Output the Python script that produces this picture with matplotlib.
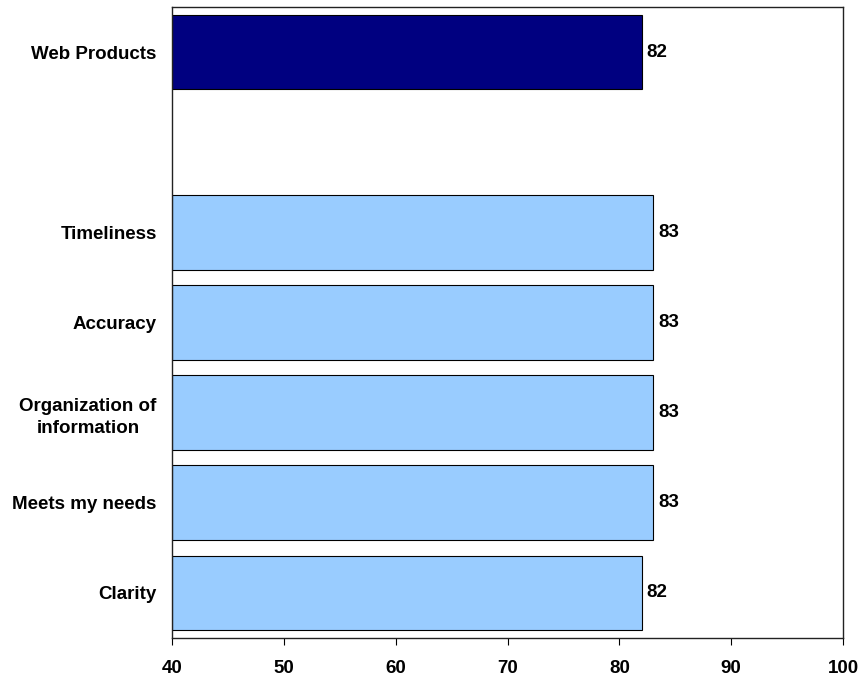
import matplotlib
matplotlib.use("Agg")
import matplotlib.pyplot as plt

categories = ["Web Products", "", "Timeliness", "Accuracy",
              "Organization of\ninformation", "Meets my needs", "Clarity"]
values = [82, None, 83, 83, 83, 83, 82]
colors = ["#000080", None, "#99CCFF", "#99CCFF", "#99CCFF", "#99CCFF", "#99CCFF"]
x_ticks = [40, 50, 60, 70, 80, 90, 100]

plt.rcParams["font.family"] = ["Liberation Sans", "DejaVu Sans"]
FS = 13.5

fig = plt.figure(figsize=(8.6, 6.77), dpi=100)
ax = fig.add_axes([172 / 860, 1 - 638 / 677, (843 - 172) / 860, (638 - 7) / 677])

positions = list(range(len(categories)))
for pos, val, col in zip(positions, values, colors):
    if val is None:
        continue
    ax.barh(pos, val - 40, left=40, height=0.83, color=col,
            edgecolor="black", linewidth=0.8)
    ax.text(val + 0.45, pos, f"{val}", va="center", ha="left",
            fontsize=FS, fontweight="bold")

ax.set_xlim(40, 100)
ax.set_ylim(len(categories) - 0.5, -0.5)
ax.set_xticks(x_ticks)
ax.set_xticklabels([str(t) for t in x_ticks], fontsize=FS, fontweight="bold")
ax.set_yticks(positions)
ax.set_yticklabels(categories, fontsize=FS, fontweight="bold",
                   ha="right", multialignment="center", linespacing=1.4)
ax.tick_params(axis="y", length=0, pad=11)
ax.tick_params(axis="x", length=5, direction="out", pad=11)
for s in ax.spines.values():
    s.set_color("#222222")
    s.set_linewidth(1.0)

fig.savefig("out.png", dpi=100)
